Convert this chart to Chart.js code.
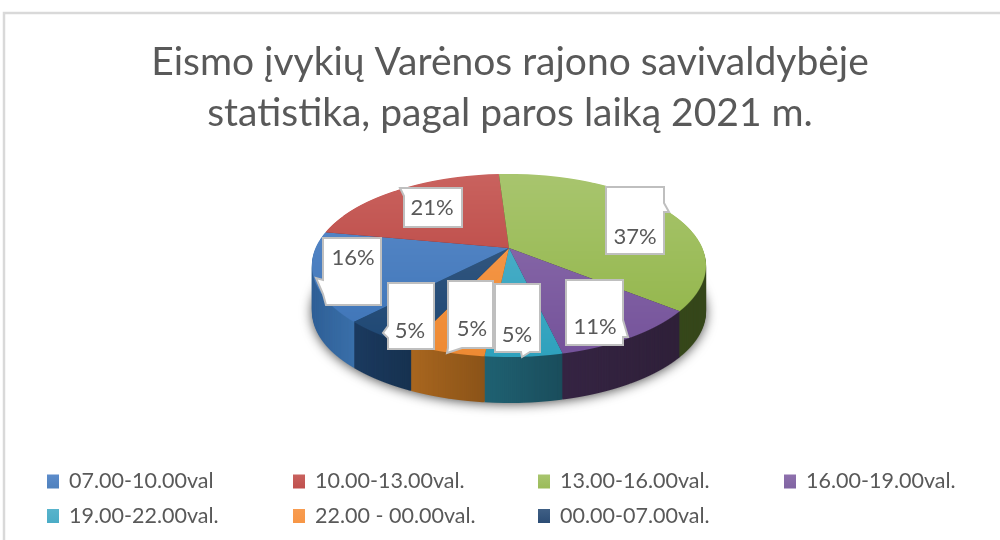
<!DOCTYPE html>
<html><head><meta charset="utf-8">
<style>html,body{margin:0;padding:0;background:#fff}#w{width:1000px;height:540px}</style>
<script src="https://cdn.jsdelivr.net/npm/chart.js@4"></script>
</head><body><div id="w"><canvas id="c" width="1000" height="540"></canvas></div>
<script>
const categories = ["07.00-10.00val","10.00-13.00val.","13.00-16.00val.","16.00-19.00val.","19.00-22.00val.","22.00 - 00.00val.","00.00-07.00val."];
const incidents = [3,4,7,2,1,1,1];
const titleLines = ["Eismo įvykių Varėnos rajono savivaldybėje","statistika, pagal paros laiką 2021 m."];

const baseColors = ["#4f81bd","#c0504d","#9bbb59","#8064a2","#4bacc6","#f79646","#2c4d75"];
const topLight   = ["#5c8ccb","#c9625e","#a8c56e","#8e70ad","#58b4cc","#f89c50","#3f5f85"];
const topDark    = ["#3b72b5","#b33a37","#8fb344","#74529a","#2ea1bd","#ee8a33","#1c4673"];
const sideLeft   = ["#2f5f96","#7a2a28","#3d4f1d","#352443","#1f6172","#a8661f","#1b3a5f"];
const sideRight  = ["#3b72ac","#7a2a28","#35461a","#2f2039","#1a4d5c","#8a5318","#16314f"];
const sideSpans  = [[312,360],[300,700],[500,706],[560,680],[485,562],[412,486],[355,414]];

// perspective of the disc: apex on screen, half-width, depth, projective tilt
const PIE = {cx:509, cy:248, a:88.2, b:193.4, k:-0.191, top:174, bottom:357, depth:46};
const FRAME = {x:4, y:13, color:"#d9d9d9", width:2.5};
const LEGEND = {cols:[47,293,538,784], rows:[481.5,516], box:14, gap:10, font:"21.5px Lato, sans-serif"};
// callout outlines (screen layout) and text anchors, same order as categories
const CALLOUTS = [
 {t:[353,258], p:[[323,238],[381,238],[381,305],[326,305],[323,294],[316,278],[323,280]]},
 {t:[432,208], p:[[402,188],[462,188],[462,227],[404,227],[404,196],[400,188]]},
 {t:[635,237], p:[[606,187],[664,187],[664,203],[669,212],[664,212],[664,254],[606,254]]},
 {t:[595,327], p:[[566,280],[623,280],[623,320],[628,337],[623,337],[623,345],[566,345]]},
 {t:[517,335], p:[[495,284],[540,284],[540,352],[530,352],[522,357],[521,352],[495,352]]},
 {t:[472,329], p:[[448,281],[493,281],[493,348],[462,348],[447,353],[448,348]]},
 {t:[410,331], p:[[388,283],[434,283],[434,349],[388,349],[388,338],[383,333],[388,326]]}
];

const total = incidents.reduce((a,b)=>a+b,0);
const percents = incidents.map(v=>Math.round(v/total*100)+"%");

function hexMix(a,b,t){
  const p=h=>[1,3,5].map(i=>parseInt(h.substr(i,2),16));
  const A=p(a),B=p(b);
  return "rgb("+A.map((x,i)=>Math.round(x+(B[i]-x)*t)).join(",")+")";
}

// Render the library's arcs into a layer, one pixel row at a time, through the disc's perspective
function renderSurface(chart, colorFn){
  const layer=document.createElement("canvas"); layer.width=1000; layer.height=540;
  const ctx=layer.getContext("2d");
  const arcs=chart.getDatasetMeta(0).data;
  const R=arcs[0].outerRadius, ax=arcs[0].x, ay=arcs[0].y;
  const vOf=Y=>{const d=Y-PIE.cy; return d/(PIE.a-PIE.k*d);};
  for(let Y=PIE.top-2; Y<PIE.bottom+2; Y++){
    const v0=vOf(Y), v1=vOf(Y+1), vm=(v0+v1)/2;
    const sx=PIE.b/(1+PIE.k*vm)/R;
    const sy=1/((v1-v0)*R);
    ctx.save();
    ctx.beginPath(); ctx.rect(0,Y,1000,1); ctx.clip();
    ctx.translate(PIE.cx,Y);
    ctx.scale(sx,sy);
    ctx.translate(-ax,-(ay+R*v0));
    arcs.forEach((arc,i)=>{
      const saved=arc.options;
      const col=colorFn(ctx,i,Y,X=>ax+(X-PIE.cx)/sx);
      arc.options=Object.assign({},saved,{backgroundColor:col,borderColor:col,borderWidth:0});
      arc.draw(ctx);
      arc.options=saved;
    });
    ctx.restore();
  }
  return layer;
}

const pie3d = {
  id:"pie3d",
  beforeDraw(chart){
    const ctx=chart.ctx;
    ctx.save();
    ctx.fillStyle="#fff"; ctx.fillRect(0,0,1000,540);
    ctx.strokeStyle=FRAME.color; ctx.lineWidth=FRAME.width;
    ctx.beginPath(); ctx.moveTo(FRAME.x,540); ctx.lineTo(FRAME.x,FRAME.y); ctx.lineTo(1000,FRAME.y); ctx.stroke();
    ctx.restore();
  },
  beforeDatasetsDraw(chart){
    const ctx=chart.ctx;
    const side=renderSurface(chart,(c,i,Y,ux)=>{
      const g=c.createLinearGradient(ux(sideSpans[i][0]),0,ux(sideSpans[i][1]),0);
      g.addColorStop(0,sideLeft[i]); g.addColorStop(1,sideRight[i]);
      return g;
    });
    const topFace=renderSurface(chart,(c,i,Y)=>{
      const t=Math.min(1,Math.max(0,(Y-PIE.top)/(PIE.bottom-PIE.top)));
      return hexMix(topLight[i],topDark[i],t);
    });
    ctx.save();
    ctx.shadowColor="rgba(0,0,0,0.7)"; ctx.shadowBlur=12; ctx.shadowOffsetY=1;
    ctx.drawImage(side,0,PIE.depth);
    ctx.restore();
    for(let d=PIE.depth-1;d>=1;d--) ctx.drawImage(side,0,d);
    ctx.drawImage(topFace,0,0);
    return false;
  },
  afterDraw(chart){
    const ctx=chart.ctx;
    ctx.save();
    CALLOUTS.forEach((c,i)=>{
      ctx.beginPath();
      c.p.forEach((q,k)=> k? ctx.lineTo(q[0],q[1]) : ctx.moveTo(q[0],q[1]));
      ctx.closePath();
      ctx.fillStyle="#fff"; ctx.fill();
      ctx.strokeStyle="#bfbfbf"; ctx.lineWidth=2; ctx.stroke();
      ctx.fillStyle="#595959"; ctx.font="22px Lato, sans-serif";
      ctx.textAlign="center"; ctx.textBaseline="middle";
      ctx.fillText(percents[i],c.t[0],c.t[1]);
    });
    categories.forEach((label,i)=>{
      const x=LEGEND.cols[i%4], y=LEGEND.rows[Math.floor(i/4)];
      const g=ctx.createLinearGradient(0,y-LEGEND.box/2,0,y+LEGEND.box/2);
      g.addColorStop(0,topLight[i]); g.addColorStop(1,baseColors[i]);
      ctx.fillStyle=g; ctx.fillRect(x,y-LEGEND.box/2,LEGEND.box-2,LEGEND.box);
      ctx.fillStyle="#595959"; ctx.font=LEGEND.font;
      ctx.textAlign="left"; ctx.textBaseline="middle";
      ctx.fillText(label,x+LEGEND.box-2+LEGEND.gap,y);
    });
    ctx.restore();
  }
};

new Chart(document.getElementById("c"),{
  type:"pie",
  data:{labels:categories,datasets:[{data:incidents,backgroundColor:baseColors,borderWidth:0}]},
  options:{
    responsive:false,animation:false,rotation:223.8,
    layout:{padding:{left:20,bottom:40}},
    plugins:{
      legend:{display:false},tooltip:{enabled:false},
      title:{display:true,text:titleLines,color:"#595959",align:"center",
        font:{family:"Lato, sans-serif",size:39,weight:"normal",lineHeight:"51px"},
        padding:{top:36.5,bottom:0}}
    }
  },
  plugins:[pie3d]
});
</script></body></html>
